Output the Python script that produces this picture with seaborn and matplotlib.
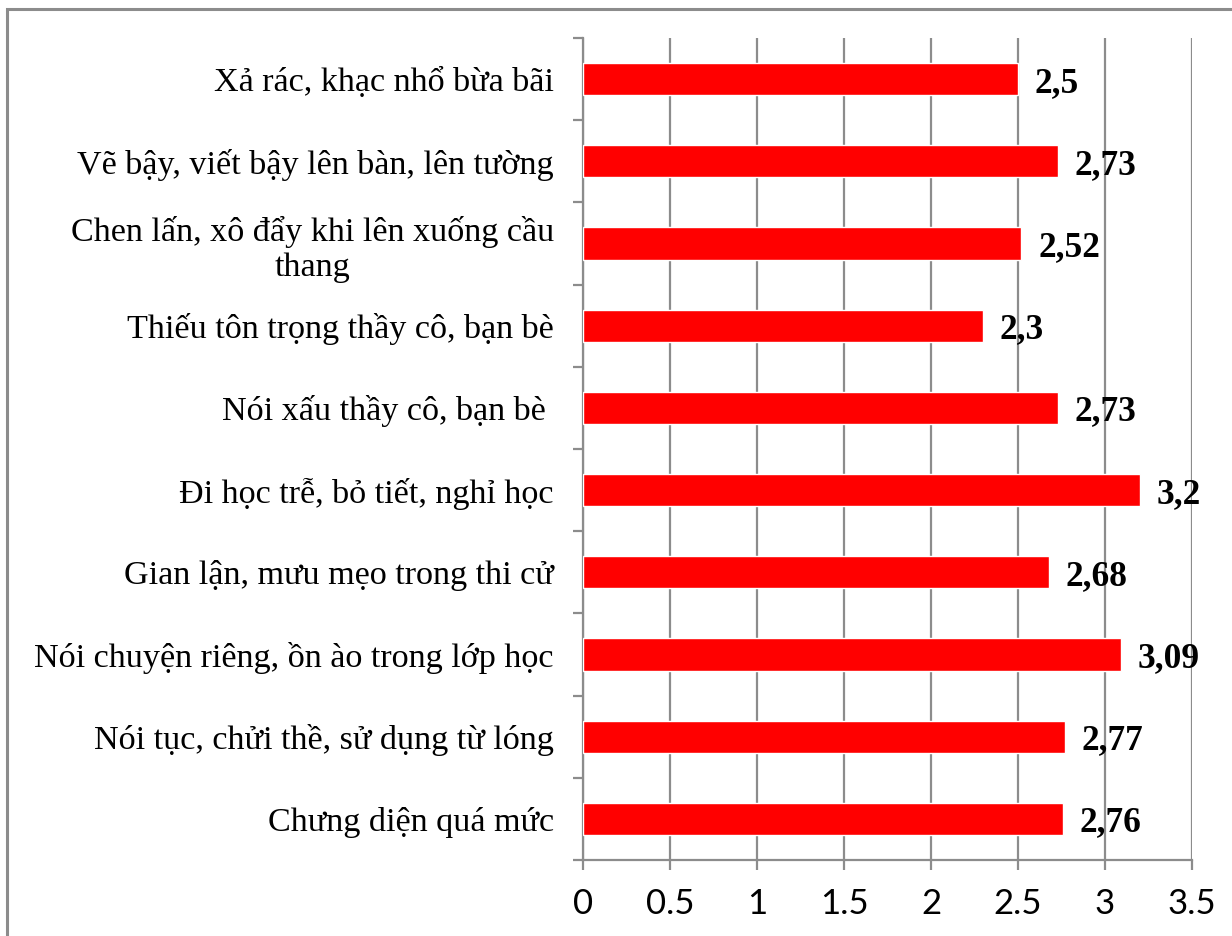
import matplotlib
matplotlib.use("Agg")
import matplotlib.pyplot as plt
import seaborn as sns
from matplotlib.patches import Rectangle

# data, top to bottom
categories = [
    "Xả rác, khạc nhổ bừa bãi",
    "Vẽ bậy, viết bậy lên bàn, lên tường",
    "Chen lấn, xô đẩy khi lên xuống cầu\nthang",
    "Thiếu tôn trọng thầy cô, bạn bè",
    "Nói xấu thầy cô, bạn bè ",
    "Đi học trễ, bỏ tiết, nghỉ học",
    "Gian lận, mưu mẹo trong thi cử",
    "Nói chuyện riêng, ồn ào trong lớp học",
    "Nói tục, chửi thề, sử dụng từ lóng",
    "Chưng diện quá mức",
]
values = [2.5, 2.73, 2.52, 2.3, 2.73, 3.2, 2.68, 3.09, 2.77, 2.76]
x_ticks = [0, 0.5, 1, 1.5, 2, 2.5, 3, 3.5]

W, H = 1232, 936
sns.set_style("white")
plt.rcParams["text.color"] = "black"
plt.rcParams["xtick.color"] = "black"
plt.rcParams["ytick.color"] = "black"
serif = ["Liberation Serif", "DejaVu Serif"]
grey = "#8c8c8c"

fig, ax = plt.subplots(figsize=(W / 100, H / 100), dpi=100)
fig.subplots_adjust(left=583 / W, right=1192 / W, top=1 - 38 / H, bottom=1 - 860 / H)

sns.barplot(x=values, y=categories, orient="h", color="#ff0000", saturation=1,
            width=0.39, ax=ax, zorder=3)

ax.set_xlim(0, 3.5)
ax.set_ylim(len(categories) - 0.5, -0.5)
ax.set_xticks(x_ticks)
ax.set_xticklabels([f"{t:g}" for t in x_ticks], family=["Lato", "DejaVu Sans"], fontsize=25)
ax.xaxis.grid(True, color=grey, linewidth=1.6, zorder=0)
ax.set_axisbelow(True)

# category labels on centre ticks, tick marks on category boundaries
ax.set_yticks(range(len(categories)))
ax.set_yticklabels(categories, family=serif, fontsize=24.6, multialignment="center")
ax.set_yticks([i - 0.5 for i in range(len(categories) + 1)], minor=True)
ax.tick_params(axis="y", which="major", left=True, length=0, pad=21, labelcolor="black")
ax.tick_params(axis="y", which="minor", left=True, length=7, width=1.6, color=grey,
               direction="out")
ax.tick_params(axis="x", bottom=True, length=7, width=1.6, color=grey, direction="out",
               pad=13, labelcolor="black")
ax.set_xlabel("")
ax.set_ylabel("")

for side in ["top", "right"]:
    ax.spines[side].set_visible(False)
for side in ["left", "bottom"]:
    ax.spines[side].set_color(grey)
    ax.spines[side].set_linewidth(1.6)

for i, v in enumerate(values):
    ax.text(v + 0.095, i, f"{v:g}".replace(".", ","), va="center_baseline", ha="left",
            family=serif, fontsize=25.5, fontweight="bold", color="black", zorder=4)

# outer chart-area frame
fig.add_artist(Rectangle((7 / W, -0.05), 1.5, 1 - 9 / H + 0.05, transform=fig.transFigure,
                         fill=False, edgecolor=grey, linewidth=2.2, clip_on=False))

fig.savefig("out.png", dpi=100)
